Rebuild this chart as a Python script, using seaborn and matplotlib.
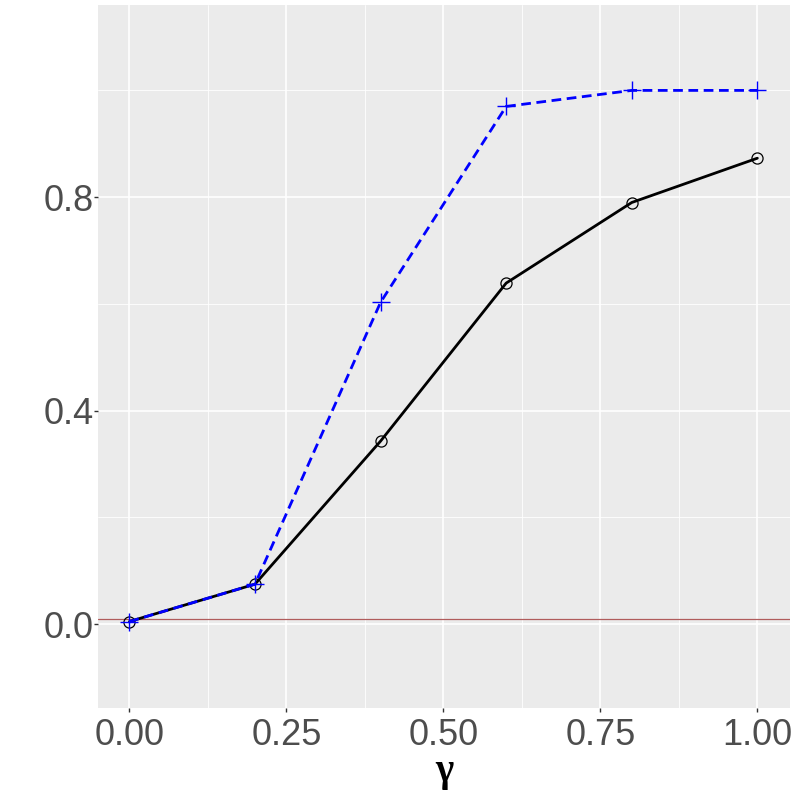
import matplotlib
matplotlib.use("Agg")
import matplotlib.pyplot as plt
import numpy as np
import pandas as pd
import seaborn as sns
from matplotlib.ticker import MultipleLocator

# === Data ===
gamma = [0.0, 0.2, 0.4, 0.6, 0.8, 1.0]
black_vals = [0.005, 0.075, 0.343, 0.639, 0.790, 0.873]
blue_vals = [0.005, 0.075, 0.603, 0.970, 1.000, 1.000]
hline_y = 0.009
x_ticks = [0.0, 0.25, 0.5, 0.75, 1.0]
x_ticklabels = ["0.00", "0.25", "0.50", "0.75", "1.00"]
y_ticks = [0.0, 0.4, 0.8]
y_ticklabels = ["0.0", "0.4", "0.8"]

df = pd.DataFrame({
    "gamma": gamma * 2,
    "value": black_vals + blue_vals,
    "series": ["black"] * len(gamma) + ["blue"] * len(gamma),
})

sns.set_theme(style="darkgrid")
plt.rcParams["font.family"] = ["Liberation Sans", "DejaVu Sans"]

fig = plt.figure(figsize=(7.93, 7.93), dpi=100)
ax = fig.add_axes([98 / 793, 1 - 708 / 793, 692 / 793, 703 / 793])
ax.set_facecolor("#EBEBEB")

# grid
ax.xaxis.set_minor_locator(MultipleLocator(0.125))
ax.yaxis.set_minor_locator(MultipleLocator(0.2))
ax.grid(which="major", color="white", linewidth=1.2)
ax.grid(which="minor", color="white", linewidth=0.6)
for s in ax.spines.values():
    s.set_visible(False)

ax.axhline(hline_y, color="#b05c5c", linewidth=0.9, zorder=1)

sns.lineplot(data=df[df.series == "black"], x="gamma", y="value", ax=ax,
             color="black", linewidth=2.0, marker="o", markersize=8,
             markerfacecolor="none", markeredgecolor="black", markeredgewidth=0.9,
             zorder=3)
sns.lineplot(data=df[df.series == "blue"], x="gamma", y="value", ax=ax,
             color="blue", linewidth=2.0, linestyle=(0, (3.5, 2)), marker="+",
             markersize=13, markeredgecolor="blue", markeredgewidth=1.0,
             zorder=4)

ax.set_xlim(-0.05, 1.052)
ax.set_ylim(-0.157, 1.16)
ax.set_xticks(x_ticks)
ax.set_xticklabels(x_ticklabels)
ax.set_yticks(y_ticks)
ax.set_yticklabels(y_ticklabels)
ax.tick_params(axis="both", which="major", labelsize=26, labelcolor="#4D4D4D",
               color="#333333", length=2.8, width=1, direction="out",
               bottom=True, left=True)
ax.tick_params(axis="x", which="major", pad=4.5)
ax.tick_params(axis="y", which="major", pad=0.5)
ax.tick_params(axis="both", which="minor", length=0)

ax.set_xlabel("γ", fontsize=28, color="black", fontweight="bold",
              family=["Liberation Serif", "DejaVu Serif"], labelpad=0)
ax.set_ylabel("")
if ax.get_legend() is not None:
    ax.get_legend().remove()

fig.savefig("out.png", dpi=100)
